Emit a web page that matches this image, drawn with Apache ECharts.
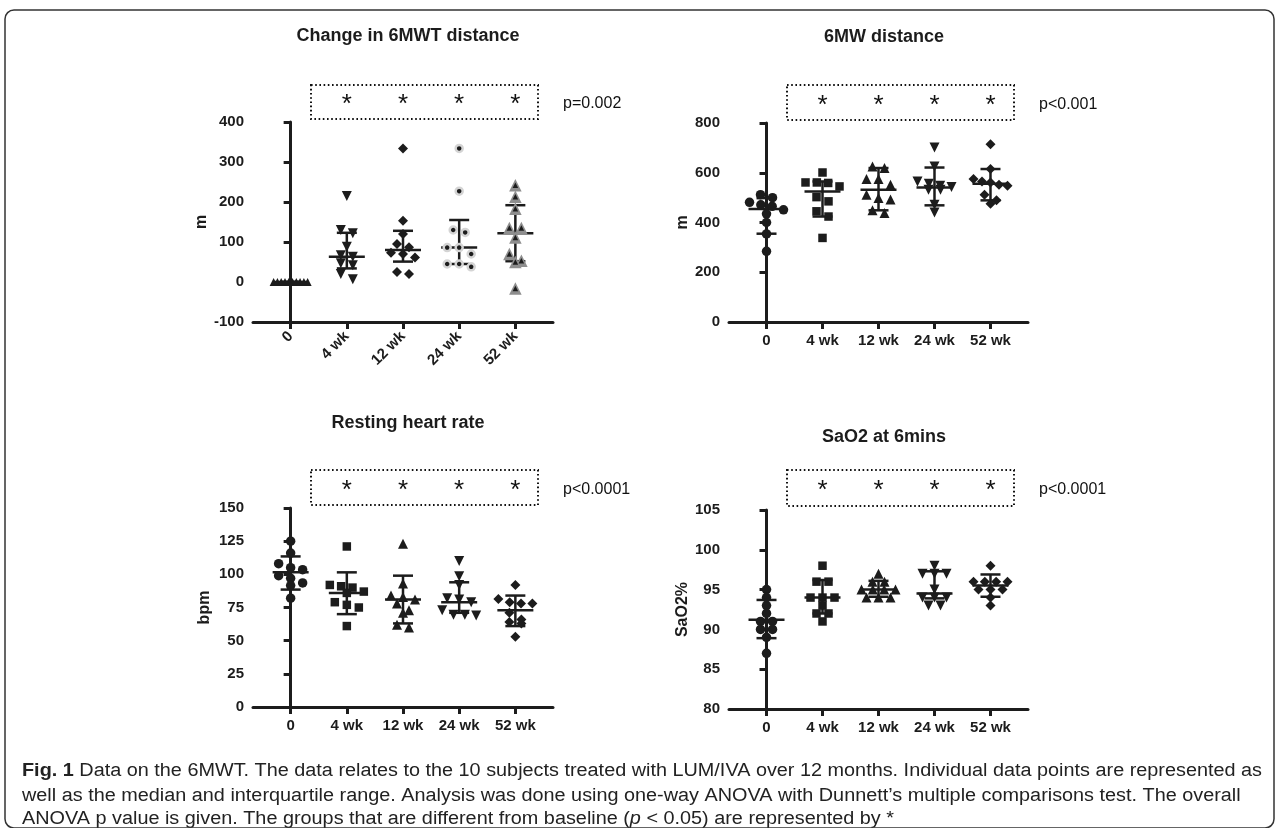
<!DOCTYPE html>
<html><head><meta charset="utf-8">
<script src="https://cdn.jsdelivr.net/npm/echarts@6/dist/echarts.min.js"></script>
<style>html,body{margin:0;padding:0;background:#fff}#c{width:1279px;height:828px}</style>
</head><body><div id="c"></div>
<script>
// ---------------- DATA ----------------
const categories = ['0', '4 wk', '12 wk', '24 wk', '52 wk'];

// Change in 6MWT distance (m) — one row per time point
const changeDist = [
  [0, 0, 0, 0, 0, 0, 0, 0, 0, 0],
  [215, 130, 122, 88, 67, 63, 47, 42, 20, 7],
  [334, 153, 120, 95, 87, 73, 70, 61, 25, 20],
  [334, 227, 130, 124, 86, 86, 70, 45, 45, 38],
  [242, 213, 183, 135, 135, 111, 70, 53, 50, -16]
];
const changeDistMedian = [0, 63, 80, 86, 122];
const changeDistQ1 = [0, 34, 51, 45, 52];
const changeDistQ3 = [0, 123, 128, 155, 192];

// 6MW distance (m)
const walkDist = [
  [512, 500, 481, 471, 465, 451, 435, 400, 354, 284],
  [601, 561, 561, 559, 545, 502, 485, 445, 424, 338],
  [625, 619, 575, 575, 552, 512, 498, 492, 449, 438],
  [702, 625, 565, 556, 548, 543, 532, 532, 471, 440],
  [715, 615, 575, 565, 561, 552, 548, 512, 489, 475]
];
const walkDistMedian = [454, 525, 532, 541, 556];
const walkDistQ1 = [355, 424, 449, 469, 489];
const walkDistQ3 = [498, 565, 619, 621, 615];

// Resting heart rate (bpm)
const heartRate = [
  [125, 116, 108, 105, 103.5, 99, 97, 93.5, 91.5, 82],
  [121, 92, 91, 90, 87, 86, 79, 77, 75, 61],
  [123, 93, 84, 83, 81, 78, 73, 71, 62, 60],
  [110, 98.5, 92, 82, 81, 79, 73, 69.5, 69.5, 69],
  [92, 81.5, 79, 78, 78, 71, 66, 64, 63, 53]
];
const heartRateMedian = [101.5, 86, 81, 79, 73];
const heartRateQ1 = [88.5, 70, 63, 71, 61];
const heartRateQ3 = [113.5, 101.5, 99, 94, 84];

// SaO2 at 6 mins (%)
const sao2 = [
  [95, 94, 93, 92, 91, 91, 90, 90, 89, 87],
  [98, 96, 96, 94, 94, 94, 93, 92, 92, 91],
  [97, 96, 96, 95, 95, 95, 95, 94, 94, 94],
  [98, 97, 97, 97, 95, 94, 94, 94, 93, 93],
  [98, 96, 96, 96, 96, 95, 95, 95, 94, 93]
];
const sao2Median = [91.2, 94, 95, 94.5, 95.5];
const sao2Q1 = [88.9, 92, 94.1, 93.9, 94.1];
const sao2Q3 = [93.7, 96.2, 96.1, 97.3, 96.9];

const pValues = ['p=0.002', 'p<0.001', 'p<0.0001', 'p<0.0001'];
const significant = [false, true, true, true, true];

const captionLines = [
  '{b|Fig. 1} Data on the 6MWT. The data relates to the 10 subjects treated with LUM/IVA over 12 months. Individual data points are represented as',
  'well as the median and interquartile range. Analysis was done using one-way ANOVA with Dunnett\u2019s multiple comparisons test. The overall',
  'ANOVA p value is given. The groups that are different from baseline ({i|p} < 0.05) are represented by *'
];

// ---------------- LAYOUT / STYLE ----------------
const FONT = '"Liberation Sans", Arial, Helvetica, sans-serif';
const INK = '#1c1c1c';
const XMIN = -0.67, XMAX = 4.67;

const defaultMarks = [
  [{symbol: 'circle', size: 9.5}],
  [{symbol: 'rect', size: 8.5}],
  [{symbol: 'triangle', size: 10}],
  [{symbol: 'triangle', size: 10, rotate: 180}],
  [{symbol: 'diamond', size: 10}]
];
const panelAMarks = [
  [{symbol: 'triangle', size: 8}],
  [{symbol: 'triangle', size: 10, rotate: 180}],
  [{symbol: 'diamond', size: 10}],
  [{symbol: 'circle', size: 7, border: '#d4d4d4', borderWidth: 2.5}],
  [{symbol: 'triangle', size: 12.5, color: '#8e8e8e'}, {symbol: 'triangle', size: 5.5}]
];

const panels = [
  {title: 'Change in 6MWT distance', cx: 403, titleTop: 22,
   grid: {left: 253, top: 122, width: 300, height: 200}, ymin: -100, ymax: 400, yint: 100,
   yname: 'm', gap: 43, rot: 45, vals: changeDist, med: changeDistMedian, q1: changeDistQ1, q3: changeDistQ3,
   box: [85, 119], marks: panelAMarks},
  {title: '6MW distance', cx: 879, titleTop: 23,
   grid: {left: 729, top: 123, width: 299, height: 199}, ymin: 0, ymax: 800, yint: 200,
   yname: 'm', gap: 38, rot: 0, vals: walkDist, med: walkDistMedian, q1: walkDistQ1, q3: walkDistQ3,
   box: [85, 120], marks: defaultMarks},
  {title: 'Resting heart rate', cx: 403, titleTop: 409,
   grid: {left: 253, top: 508, width: 300, height: 199}, ymin: 0, ymax: 150, yint: 25,
   yname: 'bpm', gap: 40, rot: 0, vals: heartRate, med: heartRateMedian, q1: heartRateQ1, q3: heartRateQ3,
   box: [470, 505], marks: defaultMarks},
  {title: 'SaO2 at 6mins', cx: 879, titleTop: 423,
   grid: {left: 729, top: 510, width: 299, height: 199}, ymin: 80, ymax: 105, yint: 5,
   yname: 'SaO2%', gap: 38, rot: 0, vals: sao2, med: sao2Median, q1: sao2Q1, q3: sao2Q3,
   box: [470, 506], marks: defaultMarks}
];

// spread points of one column horizontally (rows of near-equal values), in data units
function swarm(vals, g, p) {
  const yPx = p.grid.height / (p.ymax - p.ymin);
  const xPx = p.grid.width / (XMAX - XMIN);
  const sorted = vals.slice().sort((a, b) => b - a);
  const rows = [];
  sorted.forEach(v => {
    const r = rows[rows.length - 1];
    if (r && (r[0] - v) * yPx < 7.5) r.push(v); else rows.push([v]);
  });
  const out = [];
  rows.forEach(r => {
    const k = r.length;
    const step = k > 1 ? Math.min(12, 34 / (k - 1)) : 0;
    r.forEach((v, i) => out.push([g + (i - (k - 1) / 2) * step / xPx, v]));
  });
  return out;
}

const grids = [], xAxes = [], yAxes = [], series = [], titles = [], graphics = [];

panels.forEach((p, pi) => {
  grids.push(Object.assign({containLabel: false}, p.grid));
  const idx = [0, 1, 2, 3, 4];
  xAxes.push({
    gridIndex: pi, type: 'value', min: XMIN, max: XMAX,
    splitLine: {show: false},
    axisLine: {show: true, onZero: false, lineStyle: {color: INK, width: 3}},
    axisTick: {show: true, customValues: idx, length: 7, lineStyle: {color: INK, width: 3}},
    axisLabel: {show: true, customValues: idx, formatter: v => categories[Math.round(v)],
      rotate: p.rot, margin: p.rot ? 12 : 11, fontSize: 15, fontWeight: 'bold', color: INK, fontFamily: FONT}
  });
  yAxes.push({
    gridIndex: pi, type: 'value', min: p.ymin, max: p.ymax, interval: p.yint,
    splitLine: {show: false},
    axisLine: {show: true, lineStyle: {color: INK, width: 3}},
    axisTick: {show: true, length: 7, lineStyle: {color: INK, width: 3}},
    axisLabel: {fontSize: 15, fontWeight: 'bold', color: INK, fontFamily: FONT, margin: 9},
    name: p.yname, nameLocation: 'middle', nameGap: p.gap, nameRotate: 90,
    nameTextStyle: {fontSize: 16, fontWeight: 'bold', color: INK, fontFamily: FONT}
  });
  titles.push({text: p.title, left: p.cx, top: p.titleTop, textAlign: 'center',
    textStyle: {fontSize: 18, fontWeight: 'bold', color: INK, fontFamily: FONT}});

  // median + interquartile range
  series.push({
    type: 'custom', xAxisIndex: pi, yAxisIndex: pi, z: 2,
    data: idx.map(g => [g, p.med[g], p.q1[g], p.q3[g]]),
    renderItem: (params, api) => {
      const x = api.value(0);
      const pm = api.coord([x, api.value(1)]);
      const pl = api.coord([x, api.value(2)]);
      const ph = api.coord([x, api.value(3)]);
      const st = {stroke: INK, lineWidth: 2.5};
      const mw = 18, cw = 10;
      return {type: 'group', children: [
        {type: 'line', shape: {x1: pl[0], y1: pl[1], x2: ph[0], y2: ph[1]}, style: st},
        {type: 'line', shape: {x1: pl[0] - cw, y1: pl[1], x2: pl[0] + cw, y2: pl[1]}, style: st},
        {type: 'line', shape: {x1: ph[0] - cw, y1: ph[1], x2: ph[0] + cw, y2: ph[1]}, style: st},
        {type: 'line', shape: {x1: pm[0] - mw, y1: pm[1], x2: pm[0] + mw, y2: pm[1]}, style: st}
      ]};
    }
  });

  // individual points
  idx.forEach(g => {
    const pts = swarm(p.vals[g], g, p);
    p.marks[g].forEach((m, li) => {
      series.push({
        type: 'scatter', xAxisIndex: pi, yAxisIndex: pi, z: 3 + li,
        symbol: m.symbol, symbolSize: m.size, symbolRotate: m.rotate || 0,
        itemStyle: {color: m.color || INK, opacity: 1,
          borderColor: m.border || 'transparent', borderWidth: m.borderWidth || 0},
        emphasis: {disabled: true}, silent: true,
        data: pts
      });
    });
  });

  // significance box, stars, p value
  const xPix = v => p.grid.left + (v - XMIN) * p.grid.width / (XMAX - XMIN);
  const bx0 = p.grid.left + 58, bx1 = p.grid.left + 285;
  const [by0, by1] = p.box;
  graphics.push({type: 'rect', shape: {x: bx0, y: by0, width: bx1 - bx0, height: by1 - by0},
    style: {fill: 'none', stroke: '#111', lineWidth: 2, lineDash: [1.6, 2.6]}});
  const cy = (by0 + by1) / 2;
  idx.forEach(g => {
    if (!significant[g]) return;
    graphics.push({type: 'text', x: xPix(g), y: cy + 3,
      style: {text: '*', font: '26px ' + FONT, fill: '#111', align: 'center', verticalAlign: 'middle'}});
  });
  graphics.push({type: 'text', x: p.grid.left + 310, y: cy + 2,
    style: {text: pValues[pi], font: '16px ' + FONT, fill: '#111', align: 'left', verticalAlign: 'middle'}});
});

// caption, condensed to the original line width
const CAP_SIZE = 18;
const ctx = document.createElement('canvas').getContext('2d');
ctx.font = 'bold ' + CAP_SIZE + 'px ' + FONT;
const wb = ctx.measureText('Fig. 1').width;
ctx.font = CAP_SIZE + 'px ' + FONT;
const wr = ctx.measureText(captionLines[0].replace('{b|Fig. 1}', '')).width;
const capScale = 1240 / (wb + wr);
const capY = [771, 796, 819];
captionLines.forEach((t, i) => {
  graphics.push({type: 'text', x: 22, y: capY[i], scaleX: capScale,
    style: {text: t, fontSize: CAP_SIZE, fontFamily: FONT, fill: '#222', verticalAlign: 'middle', align: 'left',
      rich: {b: {fontWeight: 'bold', fontSize: CAP_SIZE, fontFamily: FONT, fill: '#222'},
             i: {fontStyle: 'italic', fontSize: CAP_SIZE, fontFamily: FONT, fill: '#222'}}}});
});

// frame
graphics.push({type: 'rect', shape: {x: 5, y: 10, width: 1269, height: 818, r: 9},
  style: {fill: 'none', stroke: '#333', lineWidth: 1.5}});

const chart = echarts.init(document.getElementById('c'), null, {renderer: 'canvas'});
chart.setOption({
  animation: false,
  backgroundColor: '#fff',
  textStyle: {fontFamily: FONT},
  title: titles,
  grid: grids,
  xAxis: xAxes,
  yAxis: yAxes,
  series: series,
  graphic: graphics
});
</script>
</body></html>
